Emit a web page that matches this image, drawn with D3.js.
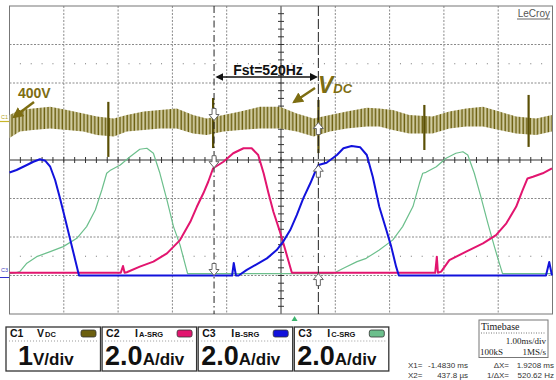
<!DOCTYPE html>
<html>
<head>
<meta charset="utf-8">
<script src="https://d3js.org/d3.v7.min.js"></script>
<style>
  body { margin: 0; background: #fff; }
  text { font-family: "Liberation Sans", Arial, sans-serif; }
</style>
</head>
<body>
<svg id="scope" width="556" height="380"></svg>
<script>
// time in ms (trigger at 0), phase currents in A, bus voltage in V
const iaSrg = [[-5.25,0],[-3.20,0],[-3.16,0.35],[-3.13,0],[-3.09,0.03],[-2.85,0.32],[-2.60,0.58],[-2.35,1.01],
  [-2.11,1.70],[-1.92,2.65],[-1.80,3.43],[-1.68,4.13],[-1.59,4.73],[-1.50,5.43],[-1.31,5.77],[-1.13,6.21],
  [-0.94,6.47],[-0.79,6.47],[-0.67,6.12],[-0.57,5.17],[-0.48,4.13],[-0.39,3.17],[-0.27,2.14],[-0.17,1.18],
  [-0.05,0],[2.59,0],[2.62,0.84],[2.64,0],[2.70,0.06],[2.85,0.66],[3.16,1.10],[3.47,1.53],[3.71,1.96],
  [3.90,2.57],[4.08,3.43],[4.20,4.30],[4.29,4.90],[4.39,4.99],[4.57,5.17],[4.74,5.43]];

const ibSrg = [[-5.25,5.35],[-5.12,5.48],[-4.93,5.74],[-4.81,5.91],[-4.69,6.04],[-4.59,5.96],[-4.50,5.65],
  [-4.41,4.96],[-4.32,4.01],[-4.22,2.88],[-4.13,1.84],[-4.04,0.81],[-3.97,0],[-1.15,0],[-1.12,0.65],[-1.08,0],
  [-1.03,0],[-0.88,0.29],[-0.70,0.58],[-0.51,0.89],[-0.33,1.32],[-0.21,1.76],[-0.08,2.36],[0.04,3.14],
  [0.16,4.01],[0.29,4.79],[0.38,5.39],[0.44,5.74],[0.59,5.86],[0.78,6.26],[0.90,6.61],[1.05,6.73],[1.21,6.66],
  [1.33,6.26],[1.44,5.13],[1.56,3.57],[1.69,2.36],[1.78,1.50],[1.87,0.46],[1.92,0],[4.63,0],[4.69,0.70],[4.74,0]];

const icSrg = [[-5.25,0],[-5.15,0.03],[-5.06,0.10],[-4.93,0.54],[-4.75,0.88],[-4.50,1.14],[-4.26,1.40],
  [-4.01,1.83],[-3.83,2.44],[-3.67,3.30],[-3.55,4.34],[-3.46,5.21],[-3.40,5.35],[-3.21,5.64],[-3.03,6.07],
  [-2.85,6.46],[-2.72,6.51],[-2.60,6.25],[-2.48,5.21],[-2.35,3.82],[-2.23,2.44],[-2.11,1.49],[-1.97,0],
  [0.71,0],[0.90,0.28],[1.15,0.62],[1.32,0.79],[1.56,1.23],[1.81,1.75],[1.99,2.44],[2.18,3.48],[2.30,4.69],
  [2.36,5.21],[2.42,5.26],[2.61,5.55],[2.79,5.99],[2.97,6.25],[3.10,6.33],[3.19,6.16],[3.31,5.21],[3.43,4.00],
  [3.56,2.61],[3.68,1.40],[3.77,0.54],[3.83,0],[4.74,0]];

// DC bus: envelope of the switching ripple, plus commutation spikes
const vdcT    = [-5.25,-5.06,-4.82,-4.50,-4.19,-3.89,-3.64,-3.33,-3.09,-2.78,-2.48,-2.17,-1.87,-1.62,-1.31,-1.00,
  -0.64,-0.27,0.04,0.35,0.65,0.96,1.33,1.56,1.81,2.11,2.54,2.85,3.16,3.47,3.77,4.08,4.45,4.74];
const vdcHigh = [417,430,434,438,430,421,413,408,417,426,430,434,417,408,417,426,438,438,421,408,417,426,436,434,
  430,417,413,426,434,438,426,413,408,417];
const vdcLow  = [357,374,378,382,378,374,365,361,374,378,382,382,369,365,374,378,382,382,374,361,374,382,387,387,
  378,369,369,382,387,387,378,369,365,374];
const spikeT    = [-3.43,-1.50,0.44,2.39,4.31];
const spikeHigh = [451,461,456,443,469];
const spikeLow  = [308,331,318,326,334];

const cursorX1 = -1.483, cursorX2 = 0.4378;

const chanNames = ["C1","C2","C3","C3"];
const chanMain  = ["V","I","I","I"];
const chanSub   = ["DC","A-SRG","B-SRG","C-SRG"];
const chanScale = ["1","2.0","2.0","2.0"];
const chanUnit  = ["V/div","A/div","A/div","A/div"];

const olive = "#6b5f0f", pink = "#e2156f", blue = "#1212dc", green = "#6cbf8c";
const chanColor = [olive, pink, blue, green];

const svg = d3.select("#scope");

// 10 x 8 divisions, 1 ms/div
const x = d3.scaleLinear().domain([-5.25, 4.75]).range([9.5, 552.5]);
const y = d3.scaleLinear().domain([-4, 4]).range([314, 6]);
const vdcDiv = v => 1 + (v - 400) / 100;   // 400 V level one division above centre
const curDiv = (i, off) => off + i / 2;     // 2.0 A/div

const defs = svg.append("defs");
const pat = defs.append("pattern").attr("id", "ripple")
  .attr("patternUnits", "userSpaceOnUse").attr("width", 3.6).attr("height", 20);
pat.append("rect").attr("width", 3.6).attr("height", 20).attr("fill", "#d2cda2");
pat.append("line").attr("x1", 1.2).attr("x2", 1.2).attr("y1", 0).attr("y2", 20)
  .attr("stroke", olive).attr("stroke-width", 1.5);

function marker(id, color, size) {
  defs.append("marker").attr("id", id).attr("viewBox", "0 0 10 10")
    .attr("refX", 8).attr("refY", 5).attr("markerWidth", size).attr("markerHeight", size)
    .attr("markerUnits", "userSpaceOnUse").attr("orient", "auto-start-reverse")
    .append("path").attr("d", "M0,0 L10,5 L0,10 z").attr("fill", color);
}
marker("blk", "#111", 8);
marker("olv", "#7d6d12", 11);

// grid
const grid = svg.append("g");
const xDivs = d3.range(1, 10).map(k => -5.25 + k);
const yDivs = d3.range(-3, 4).filter(d => d !== 0);
grid.selectAll(".gx").data(xDivs.filter(t => Math.abs(t + 0.25) > 0.01)).join("line")
  .attr("x1", d => x(d)).attr("x2", d => x(d)).attr("y1", y(4)).attr("y2", y(-4))
  .attr("stroke", "#8a8a8a").attr("stroke-dasharray", "2,1.5");
grid.selectAll(".gy").data(yDivs).join("line")
  .attr("x1", x(-5.25)).attr("x2", x(4.75)).attr("y1", d => y(d)).attr("y2", d => y(d))
  .attr("stroke", "#8a8a8a").attr("stroke-dasharray", "2,1.5");

// dot rows at +/-2.5 div
const dotT = d3.range(-5.05, 4.7, 0.2);
[2.5, -2.5].forEach(v => {
  grid.selectAll(null).data(dotT).join("rect")
    .attr("x", d => x(d) - 0.5).attr("y", y(v) - 0.5).attr("width", 1).attr("height", 1).attr("fill", "#777");
});

// centre cross with minor ticks
grid.append("line").attr("x1", x(-0.25)).attr("x2", x(-0.25)).attr("y1", y(4)).attr("y2", y(-4))
  .attr("stroke", "#333");
grid.append("line").attr("x1", x(-5.25)).attr("x2", x(4.75)).attr("y1", y(0)).attr("y2", y(0))
  .attr("stroke", "#333");
grid.selectAll(null).data(d3.range(-5.05, 4.7, 0.2)).join("line")
  .attr("x1", d => x(d)).attr("x2", d => x(d)).attr("y1", y(0) - 3).attr("y2", y(0) + 3)
  .attr("stroke", "#333");
grid.selectAll(null).data(d3.range(-3.8, 3.9, 0.2)).join("line")
  .attr("x1", x(-0.25) - 3).attr("x2", x(-0.25) + 3).attr("y1", d => y(d)).attr("y2", d => y(d))
  .attr("stroke", "#333");
grid.append("rect").attr("x", x(-5.25)).attr("y", y(4))
  .attr("width", x(4.75) - x(-5.25)).attr("height", y(-4) - y(4))
  .attr("fill", "none").attr("stroke", "#777");

// DC bus trace
const vdcRows = vdcT.map((t, i) => ({ t, hi: vdcHigh[i], lo: vdcLow[i] }));
svg.append("path").datum(vdcRows)
  .attr("d", d3.area().x(d => x(d.t)).y0(d => y(vdcDiv(d.lo))).y1(d => y(vdcDiv(d.hi))))
  .attr("fill", "url(#ripple)");
svg.selectAll(".spike").data(spikeT).join("line")
  .attr("x1", d => x(d)).attr("x2", d => x(d))
  .attr("y1", (d, i) => y(vdcDiv(spikeHigh[i]))).attr("y2", (d, i) => y(vdcDiv(spikeLow[i])))
  .attr("stroke", "#5a4f05").attr("stroke-width", 2.2);

// phase currents
const channels = [
  { data: icSrg, off: -2.95, color: green, w: 1.2 },
  { data: iaSrg, off: -2.93, color: pink, w: 2 },
  { data: ibSrg, off: -3.0, color: blue, w: 2 }
];
channels.forEach(c => {
  svg.append("path").datum(c.data)
    .attr("d", d3.line().x(d => x(d[0])).y(d => y(curDiv(d[1], c.off))))
    .attr("fill", "none").attr("stroke", c.color).attr("stroke-width", c.w)
    .attr("stroke-linejoin", "round");
});

// left channel markers
svg.append("text").attr("x", 1).attr("y", 118.5).attr("font-size", 5.5).attr("fill", "#b3a21a").text("C1");
svg.append("line").attr("x1", 0).attr("x2", 9).attr("y1", y(1)).attr("y2", y(1))
  .attr("stroke", "#c8b628").attr("stroke-width", 1.2);
svg.append("text").attr("x", 1).attr("y", 272).attr("font-size", 5.5).attr("fill", "#4040c0").text("C3");
svg.append("line").attr("x1", 0).attr("x2", 9).attr("y1", y(-3) + 2).attr("y2", y(-3) + 2)
  .attr("stroke", "#3030d0").attr("stroke-width", 1);

// cursors
svg.append("line").attr("x1", x(cursorX1)).attr("x2", x(cursorX1)).attr("y1", y(4)).attr("y2", y(-4))
  .attr("stroke", "#222").attr("stroke-dasharray", "7,3,1.5,3");
svg.append("line").attr("x1", x(cursorX2)).attr("x2", x(cursorX2)).attr("y1", y(4)).attr("y2", y(-4))
  .attr("stroke", "#222").attr("stroke-dasharray", "10,3");

function valueAt(series, t) {
  const i = d3.bisector(d => d[0]).left(series, t);
  const a = series[i - 1], b = series[i];
  return a[1] + (b[1] - a[1]) * (t - a[0]) / (b[0] - a[0]);
}
const cursorMarks = [
  { t: cursorX1, yy: y(1) - 1, dir: 1 },
  { t: cursorX1, yy: y(curDiv(valueAt(iaSrg, cursorX1), -2.93)), dir: 1 },
  { t: cursorX1, yy: y(-3), dir: 1 },
  { t: cursorX2, yy: y(1) + 1, dir: -1 },
  { t: cursorX2, yy: y(curDiv(valueAt(ibSrg, cursorX2), -3.0)), dir: -1 },
  { t: cursorX2, yy: y(-2.95), dir: -1 }
];
svg.selectAll(".cm").data(cursorMarks).join("path")
  .attr("d", "M0,0 L-5,-6 L-2,-6 L-2,-12 L2,-12 L2,-6 L5,-6 Z")
  .attr("transform", d => `translate(${x(d.t)},${d.yy}) scale(1,${d.dir})`)
  .attr("fill", "#fff").attr("stroke", "#666").attr("stroke-width", 1);

// annotations
svg.append("text").attr("x", 268).attr("y", 75).attr("text-anchor", "middle")
  .attr("font-size", 14).attr("font-weight", "bold").attr("fill", "#111").text("Fst=520Hz");
svg.append("line").attr("x1", x(cursorX1) + 3).attr("x2", x(cursorX2) - 2).attr("y1", 77).attr("y2", 77)
  .attr("stroke", "#111").attr("stroke-width", 1.5)
  .attr("marker-start", "url(#blk)").attr("marker-end", "url(#blk)");

const vlab = svg.append("text").attr("x", 318).attr("y", 93).attr("fill", "#7d6d12")
  .attr("font-weight", "bold").attr("font-style", "italic");
vlab.append("tspan").attr("font-size", 23).text("V");
vlab.append("tspan").attr("font-size", 13).text("DC");
svg.append("line").attr("x1", 315).attr("y1", 88).attr("x2", 294).attr("y2", 102)
  .attr("stroke", "#7d6d12").attr("stroke-width", 2.5).attr("marker-end", "url(#olv)");

svg.append("text").attr("x", 18).attr("y", 98).attr("font-size", 14).attr("font-weight", "bold")
  .attr("fill", "#7d6d12").text("400V");
svg.append("line").attr("x1", 34).attr("y1", 102).attr("x2", 14).attr("y2", 117)
  .attr("stroke", "#7d6d12").attr("stroke-width", 2.5).attr("marker-end", "url(#olv)");

svg.append("text").attr("x", 550).attr("y", 17).attr("text-anchor", "end")
  .attr("font-size", 10).attr("fill", "#555").text("LeCroy");
svg.append("line").attr("x1", 517).attr("x2", 550).attr("y1", 19).attr("y2", 19).attr("stroke", "#666");

// trigger marker
svg.append("path").attr("d", `M${x(0)},316 L${x(0) - 3},321 L${x(0) + 3},321 Z`).attr("fill", "#3cb46e");

// channel boxes
const boxes = svg.selectAll(".box").data(chanNames).join("g")
  .attr("transform", (d, i) => `translate(${6 + i * 96.1},327)`);
boxes.append("rect").attr("width", 94.5).attr("height", 44).attr("fill", "#fff")
  .attr("stroke", "#333").attr("stroke-width", 1.3);
boxes.append("text").attr("x", 4).attr("y", 10).attr("font-size", 10.5).attr("font-weight", "bold")
  .attr("fill", "#111").text(d => d);
boxes.append("text").attr("x", (d, i) => i === 0 ? 31 : 33).attr("y", 10)
  .attr("font-weight", "bold").attr("fill", "#111")
  .each(function(d, i) {
    const t = d3.select(this);
    t.append("tspan").attr("font-size", 10.5).text(chanMain[i]);
    t.append("tspan").attr("font-size", 7.5).attr("dx", 1).text(chanSub[i]);
  });
boxes.append("rect").attr("x", 75).attr("y", 3).attr("width", 15).attr("height", 7).attr("rx", 2)
  .attr("fill", (d, i) => chanColor[i]).attr("stroke", "#333").attr("stroke-width", 0.8);
boxes.append("line").attr("x1", 3).attr("x2", 91).attr("y1", 14).attr("y2", 14)
  .attr("stroke", "#999").attr("stroke-dasharray", "1,2");
boxes.append("text").attr("x", (d, i) => i === 0 ? 12 : 3).attr("y", 38)
  .attr("font-weight", "bold").attr("fill", "#111")
  .each(function(d, i) {
    const t = d3.select(this);
    t.append("tspan").attr("font-size", 27).text(chanScale[i]);
    t.append("tspan").attr("font-size", 17).text(chanUnit[i]);
  });

// timebase box
const tb = svg.append("g").attr("fill", "#222");
tb.append("rect").attr("x", 479).attr("y", 320).attr("width", 69).attr("height", 37.5)
  .attr("fill", "#fff").attr("stroke", "#777");
tb.append("text").attr("x", 481).attr("y", 330).attr("font-size", 10).style("font-family", "'Liberation Serif', serif").text("Timebase");
tb.append("line").attr("x1", 481).attr("x2", 546).attr("y1", 333).attr("y2", 333)
  .attr("stroke", "#777").attr("stroke-dasharray", "1,1.5");
tb.append("text").attr("x", 546).attr("y", 344).attr("text-anchor", "end").attr("font-size", 9)
  .style("font-family", "'Liberation Serif', serif").text("1.00ms/div");
tb.append("text").attr("x", 480).attr("y", 355).attr("font-size", 9)
  .style("font-family", "'Liberation Serif', serif").text("100kS");
tb.append("text").attr("x", 546).attr("y", 355).attr("text-anchor", "end").attr("font-size", 9)
  .style("font-family", "'Liberation Serif', serif").text("1MS/s");

// cursor readout
const ro = svg.append("g").attr("font-size", 8).attr("fill", "#333");
const readout = [
  ["X1=", "-1.4830 ms", "ΔX=", "1.9208 ms", 368],
  ["X2=", "437.8 µs", "1/ΔX=", "520.62 Hz", 378]
];
readout.forEach(r => {
  ro.append("text").attr("x", 408).attr("y", r[4]).text(r[0]);
  ro.append("text").attr("x", 468).attr("y", r[4]).attr("text-anchor", "end").text(r[1]);
  ro.append("text").attr("x", 509).attr("y", r[4]).attr("text-anchor", "end").text(r[2]);
  ro.append("text").attr("x", 554).attr("y", r[4]).attr("text-anchor", "end").text(r[3]);
});
</script>
</body>
</html>
